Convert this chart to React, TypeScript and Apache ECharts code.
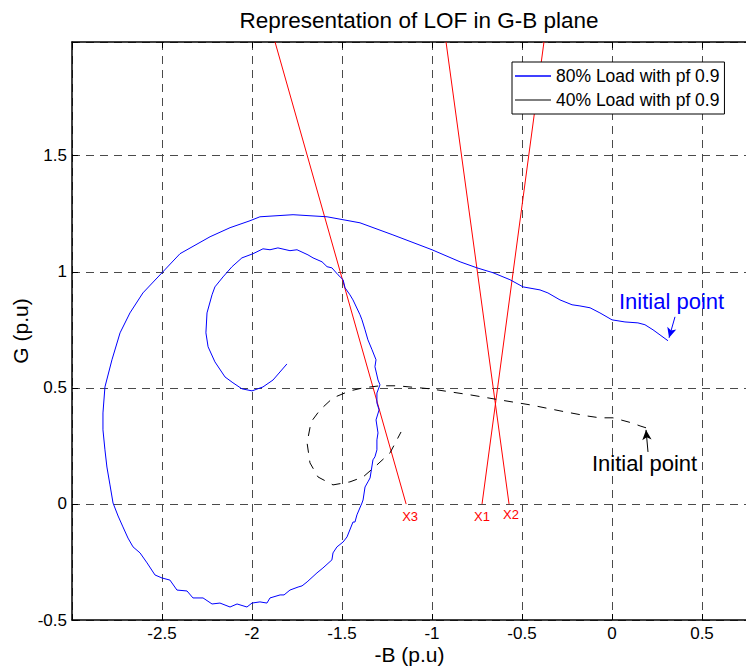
import React, { useEffect, useRef } from "react";
import * as echarts from "echarts";

const FONT = '"Liberation Sans", Arial, Helvetica, sans-serif';

const titleText = "Representation of LOF in G-B plane";
const xName = "-B (p.u)";
const yName = "G (p.u)";
const xTickLabels = ["-2.5", "-2", "-1.5", "-1", "-0.5", "0", "0.5"];
const yTickLabels = ["-0.5", "0", "0.5", "1", "1.5"];
const seriesNames = ["80% Load with pf 0.9", "40% Load with pf 0.9"];
const noteText = "Initial point";

// 80% load trajectory (blue), from the initial point
const load80: [number, number][] = [
  [0.311, 0.703], [0.267, 0.728], [0.228, 0.75], [0.183, 0.772], [0.144, 0.78],
  [0.072, 0.784], [0.0, 0.793], [-0.067, 0.823], [-0.122, 0.845], [-0.178, 0.853],
  [-0.222, 0.858], [-0.289, 0.879], [-0.356, 0.909], [-0.4, 0.922], [-0.494, 0.935],
  [-0.567, 0.966], [-0.661, 0.996], [-0.75, 1.017], [-0.844, 1.043], [-1.0, 1.095],
  [-1.217, 1.159], [-1.4, 1.211], [-1.583, 1.237], [-1.772, 1.246], [-1.956, 1.237],
  [-2.011, 1.22], [-2.122, 1.19], [-2.233, 1.151], [-2.4, 1.078], [-2.5, 0.996],
  [-2.606, 0.909], [-2.678, 0.823], [-2.733, 0.737], [-2.778, 0.621], [-2.817, 0.504],
  [-2.828, 0.392], [-2.828, 0.319], [-2.817, 0.233], [-2.806, 0.159], [-2.789, 0.082],
  [-2.772, 0.004], [-2.744, -0.052], [-2.717, -0.099], [-2.689, -0.147], [-2.661, -0.185],
  [-2.622, -0.211], [-2.583, -0.254], [-2.539, -0.306], [-2.5, -0.319], [-2.456, -0.328],
  [-2.417, -0.371], [-2.361, -0.375], [-2.328, -0.405], [-2.272, -0.405], [-2.222, -0.431],
  [-2.178, -0.427], [-2.122, -0.444], [-2.083, -0.431], [-2.028, -0.444], [-2.0, -0.427],
  [-1.956, -0.422], [-1.917, -0.427], [-1.9, -0.405], [-1.844, -0.392], [-1.822, -0.392],
  [-1.789, -0.371], [-1.744, -0.358], [-1.722, -0.353], [-1.694, -0.336], [-1.639, -0.297],
  [-1.606, -0.276], [-1.556, -0.241], [-1.55, -0.211], [-1.528, -0.185], [-1.494, -0.164],
  [-1.472, -0.142], [-1.439, -0.078], [-1.428, -0.078], [-1.417, -0.047], [-1.389, 0.004],
  [-1.383, 0.017], [-1.372, 0.073], [-1.356, 0.095], [-1.344, 0.112], [-1.328, 0.19],
  [-1.317, 0.203], [-1.306, 0.233], [-1.306, 0.276], [-1.3, 0.306], [-1.311, 0.362],
  [-1.294, 0.405], [-1.306, 0.435], [-1.306, 0.478], [-1.289, 0.513], [-1.3, 0.534],
  [-1.317, 0.591], [-1.311, 0.621], [-1.333, 0.664], [-1.356, 0.707], [-1.372, 0.75],
  [-1.389, 0.793], [-1.4, 0.815], [-1.439, 0.879], [-1.456, 0.901], [-1.483, 0.931],
  [-1.494, 0.966], [-1.522, 0.987], [-1.556, 1.017], [-1.583, 1.022], [-1.611, 1.043],
  [-1.661, 1.06], [-1.689, 1.073], [-1.75, 1.095], [-1.789, 1.091], [-1.856, 1.103],
  [-1.9, 1.095], [-1.939, 1.099], [-1.994, 1.078], [-2.056, 1.06], [-2.111, 1.022],
  [-2.161, 0.978], [-2.206, 0.935], [-2.222, 0.901], [-2.25, 0.823], [-2.256, 0.737],
  [-2.244, 0.677], [-2.206, 0.612], [-2.15, 0.547], [-2.106, 0.522], [-2.056, 0.496],
  [-2.0, 0.487], [-1.939, 0.504], [-1.883, 0.534], [-1.806, 0.603],
];

// 40% load trajectory (black dashed), from the initial point
const load40: [number, number][] = [
  [0.189, 0.328], [0.156, 0.336], [0.111, 0.349], [0.006, 0.371], [-0.067, 0.371],
  [-0.139, 0.379], [-0.289, 0.401], [-0.456, 0.427], [-0.622, 0.448], [-0.789, 0.47],
  [-1.011, 0.496], [-1.194, 0.509], [-1.289, 0.509], [-1.383, 0.5], [-1.456, 0.487],
  [-1.55, 0.457], [-1.622, 0.405], [-1.672, 0.353], [-1.694, 0.263], [-1.678, 0.177],
  [-1.633, 0.116], [-1.55, 0.082], [-1.456, 0.095], [-1.383, 0.116], [-1.306, 0.168],
  [-1.233, 0.22], [-1.172, 0.31],
];

// LOF characteristic lines (red), from the G = 0 intercept up to the top of the axes
const lineX1: [number, number][] = [[-0.722, 0], [-0.378, 1.99]];
const lineX2: [number, number][] = [[-0.572, 0], [-0.922, 1.99]];
const lineX3: [number, number][] = [[-1.144, 0], [-1.872, 1.99]];
const lineNames = ["X1", "X2", "X3"];

// arrows for "Initial point" notes: [tail, tip]
const arrow80: [number, number][] = [[0.35, 0.806], [0.317, 0.716]];
const arrow40: [number, number][] = [[0.2, 0.224], [0.189, 0.319]];

export default function App() {
  const ref = useRef<HTMLDivElement>(null);

  useEffect(() => {
    if (!ref.current) return;
    const chart = echarts.init(ref.current, undefined, { renderer: "svg" });

    const redSeries = (name: string, d: [number, number][], off: number[]) => ({
      type: "line",
      name,
      data: [
        {
          value: d[0],
          label: {
            show: true,
            formatter: name,
            position: "bottom",
            distance: 6,
            offset: off,
            color: "#ff0000",
            fontSize: 13,
            fontFamily: FONT,
          },
        },
        { value: d[1], label: { show: false } },
      ],
      showSymbol: true,
      symbol: "circle",
      symbolSize: 0.5,
      lineStyle: { color: "#ff0000", width: 1 },
      itemStyle: { color: "#ff0000" },
      z: 3,
      silent: true,
    });

    const fmt = (allowed: string[]) => (v: number) => {
      const s = String(Math.round(v * 100) / 100);
      return allowed.includes(s) ? s : "";
    };

    const axisCommon = {
      axisLine: { show: true, onZero: false, lineStyle: { color: "#000", width: 1.5 } },
      axisTick: { show: true, inside: true, length: 6, lineStyle: { color: "#000", width: 1 } },
    };

    chart.setOption({
      animation: false,
      backgroundColor: "#fff",
      title: {
        text: titleText,
        left: 414,
        textAlign: "center",
        top: 4,
        textStyle: { fontSize: 22.5, fontWeight: "normal", color: "#000", fontFamily: FONT },
      },
      grid: {
        left: 72,
        right: -1,
        top: 42,
        bottom: 46,
        containLabel: false,
        outerBoundsMode: "none",
      },
      legend: {
        data: [
          { name: seriesNames[0] },
          { name: seriesNames[1] },
        ],
        orient: "vertical",
        left: 512,
        top: 62,
        padding: [5, 5, 5, 3],
        itemGap: 6,
        itemWidth: 36,
        itemHeight: 1.5,
        icon: "rect",
        backgroundColor: "#fff",
        borderColor: "#000",
        borderWidth: 1,
        borderRadius: 0,
        textStyle: { fontSize: 17.5, color: "#000", fontFamily: FONT, lineHeight: 17 },
      },
      xAxis: [
        {
          type: "value",
          min: -3,
          max: 0.75,
          interval: 0.5,
          position: "bottom",
          name: xName,
          nameLocation: "middle",
          nameGap: 24,
          nameMoveOverlap: false,
          nameTextStyle: { fontSize: 21, lineHeight: 20, color: "#000", fontFamily: FONT },
          ...axisCommon,
          axisLabel: {
            formatter: fmt(xTickLabels),
            fontSize: 17,
            lineHeight: 17,
            color: "#000",
            fontFamily: FONT,
            margin: 5,
          },
          splitLine: { show: true, lineStyle: { color: "#4a4a4a", type: [8, 6], width: 1 } },
        },
        {
          type: "value",
          min: -3,
          max: 0.75,
          interval: 0.5,
          position: "top",
          ...axisCommon,
          axisLabel: { show: false },
          splitLine: { show: false },
        },
      ],
      yAxis: [
        {
          type: "value",
          min: -0.5,
          max: 1.99,
          interval: 0.5,
          position: "left",
          name: yName,
          nameLocation: "middle",
          nameGap: 42,
          nameMoveOverlap: false,
          nameRotate: 90,
          nameTextStyle: { fontSize: 21, lineHeight: 20, color: "#000", fontFamily: FONT },
          ...axisCommon,
          axisLabel: {
            formatter: fmt(yTickLabels),
            fontSize: 17,
            color: "#000",
            fontFamily: FONT,
            margin: 5,
          },
          splitLine: { show: true, lineStyle: { color: "#4a4a4a", type: [8, 6], width: 1 } },
        },
      ],
      series: [
        {
          type: "line",
          name: seriesNames[0],
          data: load80,
          showSymbol: false,
          symbol: "none",
          lineStyle: { color: "#0000ff", width: 1 },
          itemStyle: { color: "#0000ff" },
          z: 4,
          markLine: {
            silent: true,
            symbol: ["none", "arrow"],
            symbolSize: [7, 10],
            label: { show: false },
            lineStyle: { color: "#0000ff", width: 1, type: "solid" },
            data: [[{ coord: arrow80[0] }, { coord: arrow80[1] }]],
          },
        },
        {
          type: "line",
          name: seriesNames[1],
          data: load40,
          showSymbol: false,
          symbol: "none",
          lineStyle: { color: "#000", width: 1, type: [9, 8] },
          itemStyle: { color: "#555" },
          z: 4,
          markLine: {
            silent: true,
            symbol: ["none", "arrow"],
            symbolSize: [7, 10],
            label: { show: false },
            lineStyle: { color: "#000", width: 1, type: "solid" },
            data: [[{ coord: arrow40[0] }, { coord: arrow40[1] }]],
          },
        },
        redSeries(lineNames[0], lineX1, [0, 0]),
        redSeries(lineNames[1], lineX2, [2, -2]),
        redSeries(lineNames[2], lineX3, [4, 0]),
      ],
      graphic: [
        {
          type: "text",
          left: 619,
          top: 290,
          style: { text: noteText, fill: "#0000ff", fontSize: 22, fontFamily: FONT },
          z: 10,
        },
        {
          type: "text",
          left: 592,
          top: 452,
          style: { text: noteText, fill: "#000", fontSize: 22, fontFamily: FONT },
          z: 10,
        },
      ],
    });

    return () => chart.dispose();
  }, []);

  return (
    <div
      ref={ref}
      style={{ position: "fixed", left: 0, top: 0, width: 746, height: 666, background: "#fff" }}
    />
  );
}
